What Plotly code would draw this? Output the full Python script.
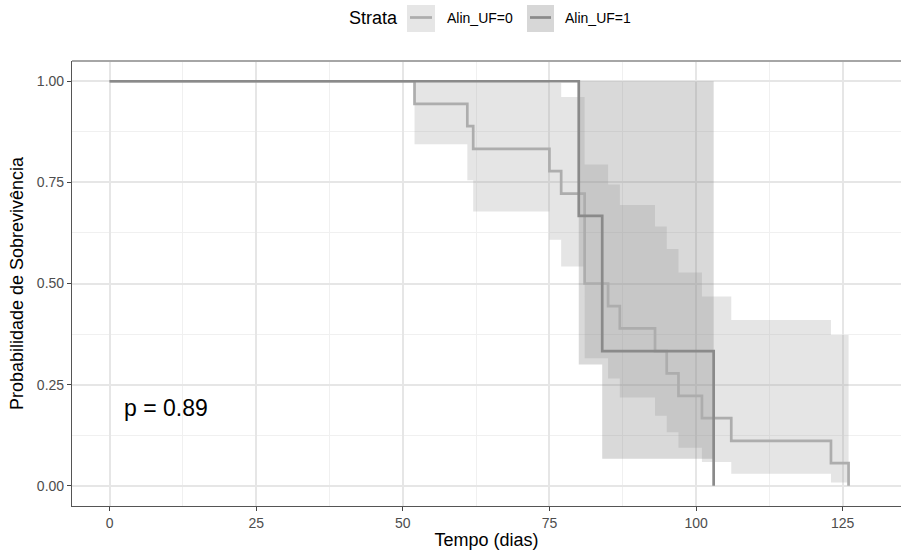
import plotly.graph_objects as go

# ---------------- data ----------------
# Kaplan-Meier curve, Alin_UF=0
t0 = [0, 52, 61, 62, 75, 77, 81, 85, 87, 93, 95, 97, 101, 106, 123, 126]
s0 = [1.0, 0.944, 0.889, 0.833, 0.778, 0.722, 0.500, 0.444, 0.389, 0.333,
      0.278, 0.222, 0.167, 0.111, 0.056, 0.0]
# confidence band, Alin_UF=0 (last entry closes the band at the final time)
ci0_t = [52, 61, 62, 75, 77, 81, 85, 87, 93, 95, 97, 101, 106, 123, 126]
ci0_up = [1.0, 1.0, 1.0, 0.996, 0.961, 0.794, 0.745, 0.694, 0.641, 0.585,
          0.527, 0.468, 0.410, 0.373, 0.373]
ci0_lo = [0.844, 0.755, 0.678, 0.608, 0.542, 0.315, 0.265, 0.218, 0.173,
          0.132, 0.094, 0.059, 0.030, 0.008, 0.008]

# Kaplan-Meier curve, Alin_UF=1
t1 = [0, 80, 84, 103]
s1 = [1.0, 0.667, 0.333, 0.0]
ci1_t = [80, 84, 103]
ci1_up = [1.0, 1.0, 1.0]
ci1_lo = [0.300, 0.067, 0.067]

x_ticks = [0, 25, 50, 75, 100, 125]
y_ticks = [0.0, 0.25, 0.5, 0.75, 1.0]
strata = ["Alin_UF=0", "Alin_UF=1"]
p_text = "p = 0.89"

# ---------------- style ----------------
FONT = "Liberation Sans, Arial, Helvetica, sans-serif"
col_line = ["#adadad", "#8a8a8a"]
col_fill = ["rgba(170,170,170,0.30)", "rgba(130,130,130,0.30)"]
key_fill = ["#e6e6e6", "#d7d7d7"]

W, H = 901, 550
ML, MR, MT, MB = 72, 0, 61, 44
PW, PH = W - ML - MR, H - MT - MB


def pxx(px):
    return (px - ML) / PW


def pxy(py):
    return (H - MB - py) / PH


fig = go.Figure()


def add_band(tt, lo, up, fill):
    fig.add_trace(go.Scatter(x=tt, y=lo, mode="lines", line=dict(width=0, shape="hv"),
                             hoverinfo="skip", showlegend=False))
    fig.add_trace(go.Scatter(x=tt, y=up, mode="lines", line=dict(width=0, shape="hv"),
                             fill="tonexty", fillcolor=fill, hoverinfo="skip",
                             showlegend=False))


add_band(ci0_t, ci0_lo, ci0_up, col_fill[0])
add_band(ci1_t, ci1_lo, ci1_up, col_fill[1])

fig.add_trace(go.Scatter(x=t0, y=s0, mode="lines", name=strata[0],
                         line=dict(color=col_line[0], width=2.7, shape="hv"),
                         showlegend=False))
fig.add_trace(go.Scatter(x=t1, y=s1, mode="lines", name=strata[1],
                         line=dict(color=col_line[1], width=2.7, shape="hv"),
                         showlegend=False))

# p-value
fig.add_annotation(x=2.2, y=0.193, xref="x", yref="y", text=p_text, showarrow=False,
                   xanchor="left", yanchor="middle",
                   font=dict(family=FONT, size=23, color="black"))

# ---------------- manual legend ----------------
fig.add_annotation(x=pxx(347), y=pxy(18), xref="paper", yref="paper", text="Strata",
                   showarrow=False, xanchor="left", yanchor="middle",
                   font=dict(family=FONT, size=18, color="black"))
key_x = [(407, 435), (527, 554)]
lab_x = [445, 563]
for i in range(2):
    x0, x1 = key_x[i]
    fig.add_shape(type="rect", xref="paper", yref="paper",
                  x0=pxx(x0), x1=pxx(x1), y0=pxy(32), y1=pxy(5),
                  fillcolor=key_fill[i], line=dict(width=0), layer="above")
    fig.add_shape(type="line", xref="paper", yref="paper",
                  x0=pxx(x0 + 3), x1=pxx(x1 - 3), y0=pxy(17.5), y1=pxy(17.5),
                  line=dict(color=col_line[i], width=2.7), layer="above")
    fig.add_annotation(x=pxx(lab_x[i]), y=pxy(18), xref="paper", yref="paper",
                       text=strata[i], showarrow=False, xanchor="left",
                       yanchor="middle",
                       font=dict(family=FONT, size=14, color="black"))

# top border line
fig.add_shape(type="line", xref="paper", yref="paper", x0=0, x1=1, y0=1, y1=1,
              line=dict(color="#a6a6a6", width=2), layer="above")

axis_common = dict(
    showline=True, linecolor="#555555", linewidth=1.2,
    ticks="outside", ticklen=4, tickwidth=1.2, tickcolor="#444444",
    tickfont=dict(family=FONT, size=14, color="#4d4d4d"),
    showgrid=True, gridcolor="#e6e6e6", gridwidth=1.5,
    zeroline=False,
)

fig.update_layout(
    width=W, height=H,
    margin=dict(l=ML, r=MR, t=MT, b=MB, pad=0),
    paper_bgcolor="white", plot_bgcolor="white",
    showlegend=False,
    xaxis=dict(range=[-6.4, 134.94], tickvals=x_ticks, **axis_common,
               minor=dict(dtick=12.5, tick0=0, showgrid=True, gridcolor="#f0f0f0",
                          gridwidth=0.9),
               title=dict(text="Tempo (dias)", standoff=6,
                          font=dict(family=FONT, size=18, color="black"))),
    yaxis=dict(range=[-0.05, 1.05], tickvals=y_ticks, tickformat=".2f", **axis_common,
               minor=dict(dtick=0.125, tick0=0, showgrid=True, gridcolor="#f0f0f0",
                          gridwidth=0.9),
               title=dict(text="Probabilidade de Sobrevivência", standoff=8,
                          font=dict(family=FONT, size=18, color="black"))),
)

fig.write_html("out.html")
